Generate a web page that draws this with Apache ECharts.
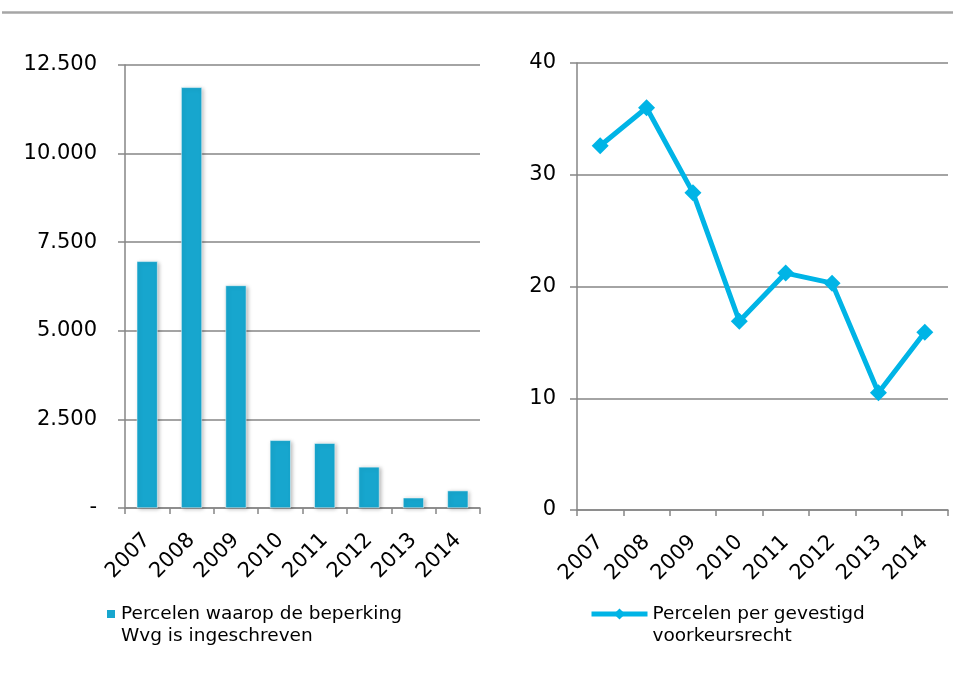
<!DOCTYPE html>
<html>
<head>
<meta charset="utf-8">
<script src="https://cdn.jsdelivr.net/npm/echarts@6/dist/echarts.min.js"></script>
<style>
html, body { margin: 0; padding: 0; background: #fff; }
#chart { width: 953px; height: 675px; }
</style>
</head>
<body>
<div id="chart"></div>
<script>
// data
var years = ['2007', '2008', '2009', '2010', '2011', '2012', '2013', '2014'];
var wvgPercelen = [6960, 11870, 6280, 1910, 1830, 1160, 290, 490];
var voorkeursPercelen = [32.6, 36.0, 28.4, 16.9, 21.2, 20.3, 10.5, 15.9];
var leftTicks = ['-', '2.500', '5.000', '7.500', '10.000', '12.500'];
var rightTicks = ['0', '10', '20', '30', '40'];
var nameBar = 'Percelen waarop de beperking\nWvg is ingeschreven';
var nameLine = 'Percelen per gevestigd\nvoorkeursrecht';

var font = 'DejaVu Sans, Verdana, sans-serif';
var gray = '#868686';
var barColor = '#17A6CE';
var lineColor = '#00B4E6';

var myChart = echarts.init(document.getElementById('chart'), null, { renderer: 'canvas' });

function xAxisOpt(idx) {
	return {
		type: 'category', gridIndex: idx, data: years, boundaryGap: true,
		axisLine: { lineStyle: { color: gray, width: 1.5 } },
		axisTick: { show: true, length: 6, lineStyle: { color: gray, width: 1.5 } },
		axisLabel: { rotate: 45, margin: 29, fontSize: 21, color: '#000', fontFamily: font }
	};
}

// blank first line so the legend icon sits level with the first real line
function legendText(name) { return ' \n' + name; }

var option = {
	animation: false,
	graphic: [{
		type: 'line', shape: { x1: 2, y1: 12.5, x2: 953, y2: 12.5 },
		style: { stroke: '#A6A6A6', lineWidth: 2.5 }
	}],
	grid: [
		{ left: 125, right: 473, top: 65, bottom: 167 },
		{ left: 577, right: 5, top: 63, bottom: 165 }
	],
	xAxis: [xAxisOpt(0), xAxisOpt(1)],
	yAxis: [{
		type: 'value', gridIndex: 0, min: 0, max: 12500, interval: 2500,
		axisLine: { show: true, lineStyle: { color: gray, width: 1.5 } },
		axisTick: { show: true, length: 7, lineStyle: { color: gray, width: 1.5 } },
		splitLine: { lineStyle: { color: gray, width: 1.5 } },
		axisLabel: {
			margin: 28, fontSize: 21, color: '#000', fontFamily: font,
			formatter: function (v) { return leftTicks[Math.round(v / 2500)]; }
		}
	}, {
		type: 'value', gridIndex: 1, min: 0, max: 40, interval: 10,
		axisLine: { show: true, lineStyle: { color: gray, width: 1.5 } },
		axisTick: { show: true, length: 7, lineStyle: { color: gray, width: 1.5 } },
		splitLine: { lineStyle: { color: gray, width: 1.5 } },
		axisLabel: {
			margin: 21, fontSize: 21, color: '#000', fontFamily: font,
			formatter: function (v) { return rightTicks[Math.round(v / 10)]; }
		}
	}],
	legend: [{
		data: [nameBar], left: 100, top: 576, orient: 'vertical',
		icon: 'rect', itemWidth: 10, itemHeight: 10, itemGap: 6,
		formatter: legendText,
		textStyle: { fontSize: 18.5, fontFamily: font, color: '#000', lineHeight: 22 }
	}, {
		data: [nameLine], left: 584, top: 576, orient: 'vertical',
		itemWidth: 56, itemHeight: 14, itemGap: 4,
		formatter: legendText,
		lineStyle: { color: lineColor, width: 5 },
		itemStyle: { color: lineColor },
		textStyle: { fontSize: 18.5, fontFamily: font, color: '#000', lineHeight: 22 }
	}],
	series: [{
		name: nameBar, type: 'bar', xAxisIndex: 0, yAxisIndex: 0,
		data: wvgPercelen, barWidth: '47%',
		itemStyle: {
			color: barColor, borderColor: '#fff', borderWidth: 0.5,
			shadowColor: 'rgba(0,0,0,0.28)', shadowBlur: 4, shadowOffsetX: 1.5, shadowOffsetY: 1
		}
	}, {
		name: nameLine, type: 'line', xAxisIndex: 1, yAxisIndex: 1,
		data: voorkeursPercelen, symbol: 'diamond', symbolSize: 17,
		lineStyle: { color: lineColor, width: 5 },
		itemStyle: { color: lineColor }
	}]
};
myChart.setOption(option);
</script>
</body>
</html>
